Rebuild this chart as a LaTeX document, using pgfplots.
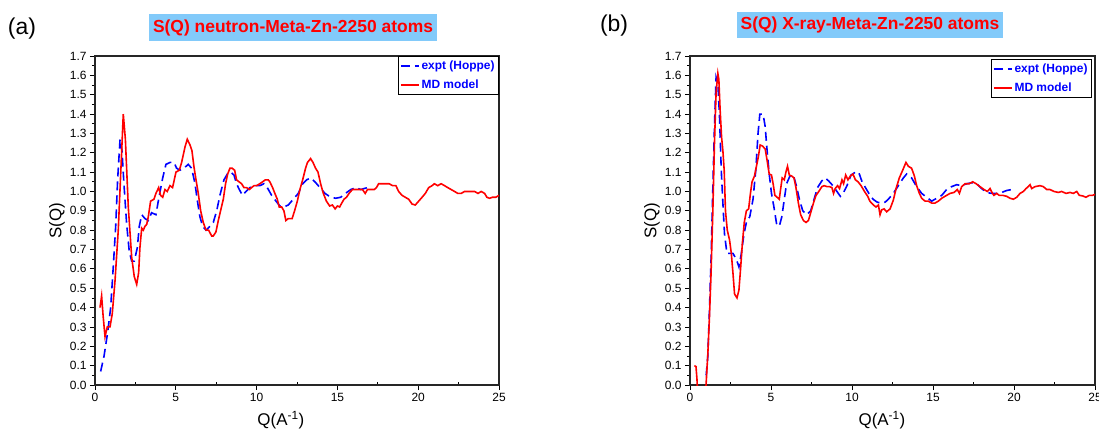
\documentclass[border=0pt]{standalone}
\usepackage{pgfplots}
\pgfplotsset{compat=1.18}
\usepackage{fontspec}
\setmainfont{Liberation Sans}
\definecolor{titlebg}{RGB}{130,202,250}

\pgfplotsset{
  sqstyle/.style={
    scale only axis, height=329bp,
    xmin=0, xmax=25, ymin=0, ymax=1.7,
    xtick={0,5,10,15,20,25}, minor x tick num=1,
    ytick={0,0.1,0.2,0.3,0.4,0.5,0.6,0.7,0.8,0.9,1.0,1.1,1.2,1.3,1.4,1.5,1.6,1.7},
    minor y tick num=1,
    tick align=outside, xtick pos=bottom, ytick pos=left,
    major tick length=5bp, minor tick length=3bp,
    tick style={black, line width=0.8bp},
    minor x tick style={yshift=3bp},
    axis line style={black!85, line width=1.1bp},
    ticklabel style={font=\fontsize{12}{14}\selectfont},
    /pgf/number format/assume math mode=true,
    y tick label style={/pgf/number format/fixed, /pgf/number format/fixed zerofill, /pgf/number format/precision=1},
    label style={font=\fontsize{17}{20}\selectfont},
    xlabel={Q(A\textsuperscript{-1})}, ylabel={S(Q)},
    ylabel style={at={(axis description cs:-0.094,0.5)}, anchor=center},
    legend cell align=left,
    legend style={font=\bfseries\fontsize{12}{14}\selectfont, text=blue, draw=black, line width=0.8bp,
      at={(1,1)}, anchor=north east, inner xsep=2bp, inner ysep=2.5bp, row sep=5bp},
    legend image code/.code={\draw[#1] (0bp,0bp) -- (18bp,0bp);},
  },
  exptstyle/.style={blue, line width=1.6bp, dash pattern=on 9bp off 5bp},
  mdstyle/.style={red, line width=1.6bp},
}

\begin{document}
\begin{tikzpicture}
\useasboundingbox (0,0) rectangle (1099bp,432bp);

% ---------------- panel (a) ----------------
\begin{axis}[sqstyle, width=404bp, at={(95bp,47bp)}, anchor=south west,
  xlabel style={at={(axis description cs:0.46,-0.106)}, anchor=center}]
\addplot[exptstyle] table {
0.35 0.07
0.56 0.15
0.78 0.27
0.97 0.40
1.13 0.61
1.28 0.82
1.40 1.06
1.55 1.27
1.67 1.21
1.79 1.04
1.96 0.83
2.12 0.69
2.27 0.64
2.43 0.64
2.62 0.71
2.74 0.82
2.89 0.88
3.09 0.86
3.30 0.85
3.50 0.89
3.77 0.88
3.98 0.98
4.19 1.07
4.39 1.14
4.64 1.15
4.89 1.15
5.05 1.12
5.26 1.11
5.50 1.12
5.77 1.14
5.98 1.12
6.19 1.04
6.33 0.955
6.49 0.87
6.66 0.82
6.87 0.80
7.11 0.82
7.32 0.84
7.53 0.90
7.73 0.98
7.98 1.06
8.19 1.09
8.39 1.10
8.60 1.085
8.76 1.04
8.93 1.01
9.13 0.98
9.34 1.00
9.59 1.02
9.90 1.03
10.20 1.03
10.45 1.04
10.66 1.02
10.93 0.98
11.20 0.95
11.44 0.925
11.69 0.92
11.96 0.93
12.27 0.96
12.58 0.99
12.85 1.04
13.09 1.06
13.34 1.07
13.61 1.05
13.92 1.02
14.23 0.99
14.59 0.97
14.90 0.965
15.20 0.97
15.50 0.99
15.83 1.01
16.14 1.02
16.45 1.01
16.86 1.02
};
\addlegendentry{expt (Hoppe)}
\addplot[mdstyle] table {
0.31 0.40
0.41 0.46
0.50 0.36
0.62 0.25
0.76 0.30
0.93 0.30
1.07 0.37
1.24 0.54
1.44 0.80
1.59 1.09
1.75 1.40
1.88 1.27
2.06 0.92
2.27 0.66
2.43 0.56
2.58 0.52
2.70 0.58
2.78 0.71
2.89 0.81
2.99 0.80
3.09 0.82
3.20 0.83
3.30 0.87
3.44 0.95
3.65 0.96
3.77 0.99
3.94 1.02
4.06 0.98
4.19 0.97
4.33 1.01
4.47 1.00
4.64 1.03
4.80 1.02
5.01 1.10
5.22 1.11
5.36 1.15
5.57 1.23
5.71 1.27
5.88 1.24
6.00 1.21
6.12 1.13
6.25 1.06
6.39 0.99
6.54 0.90
6.70 0.84
6.87 0.80
7.03 0.80
7.22 0.77
7.32 0.77
7.48 0.79
7.63 0.85
7.77 0.90
7.94 0.96
8.08 1.04
8.21 1.09
8.35 1.12
8.49 1.12
8.64 1.11
8.76 1.06
8.91 1.05
9.07 1.04
9.22 1.02
9.38 1.02
9.55 1.01
9.69 1.02
9.84 1.03
10.00 1.03
10.20 1.04
10.37 1.05
10.54 1.06
10.72 1.06
10.82 1.05
10.99 1.02
11.13 0.99
11.28 0.96
11.40 0.92
11.55 0.92
11.69 0.90
11.81 0.85
11.96 0.86
12.06 0.86
12.20 0.86
12.35 0.90
12.52 0.95
12.68 1.01
12.85 1.06
13.03 1.12
13.15 1.15
13.34 1.17
13.49 1.15
13.65 1.12
13.80 1.10
13.96 1.04
14.13 0.99
14.32 0.95
14.52 0.925
14.69 0.93
14.86 0.91
15.00 0.925
15.14 0.92
15.27 0.94
15.41 0.96
15.56 0.97
15.72 0.99
15.93 1.01
16.14 1.01
16.35 1.01
16.55 1.01
16.72 0.99
16.86 1.01
17.07 1.01
17.28 1.01
17.42 1.02
17.55 1.04
17.80 1.04
18.00 1.04
18.20 1.04
18.42 1.03
18.62 1.03
18.79 1.00
19.00 0.98
19.20 0.97
19.41 0.96
19.62 0.935
19.82 0.93
20.03 0.95
20.24 0.97
20.44 0.99
20.65 1.02
20.86 1.03
21.00 1.04
21.21 1.03
21.42 1.04
21.63 1.03
21.83 1.02
22.04 1.01
22.25 1.00
22.45 0.99
22.66 0.99
22.87 1.00
23.07 1.00
23.28 1.00
23.49 1.00
23.70 0.99
23.90 1.00
24.11 0.99
24.25 0.97
24.42 0.965
24.59 0.97
24.80 0.97
25.00 0.98
};
\addlegendentry{MD model}
\end{axis}

% ---------------- panel (b) ----------------
\begin{axis}[sqstyle, width=405bp, at={(690bp,47bp)}, anchor=south west,
  xlabel style={at={(axis description cs:0.474,-0.106)}, anchor=center},
  legend style={at={(1,1)}, anchor=north east, xshift=-3bp, yshift=-3bp}]
\addplot[exptstyle] table {
1.00 0.05
1.10 0.15
1.20 0.39
1.30 0.65
1.41 1.02
1.51 1.34
1.61 1.59
1.72 1.56
1.82 1.39
1.93 1.11
2.03 0.94
2.13 0.78
2.28 0.68
2.44 0.68
2.65 0.68
2.86 0.65
3.02 0.61
3.17 0.68
3.33 0.78
3.48 0.84
3.69 0.87
3.89 0.96
4.06 1.11
4.20 1.30
4.31 1.40
4.51 1.40
4.64 1.335
4.76 1.21
4.89 1.09
5.03 0.99
5.18 0.92
5.34 0.835
5.51 0.82
5.67 0.87
5.82 0.96
5.96 1.04
6.17 1.08
6.38 1.085
6.58 1.025
6.75 0.96
6.96 0.90
7.20 0.88
7.45 0.90
7.66 0.96
7.87 1.02
8.14 1.055
8.34 1.07
8.55 1.055
8.82 1.03
9.07 1.00
9.28 0.975
9.48 0.995
9.69 1.03
9.94 1.085
10.21 1.10
10.41 1.10
10.62 1.05
10.83 1.02
11.04 0.99
11.30 0.96
11.55 0.945
11.80 0.94
12.05 0.945
12.24 0.96
12.55 0.99
12.86 1.03
13.17 1.07
13.37 1.09
13.68 1.07
13.99 1.025
14.30 0.99
14.61 0.97
14.92 0.95
15.23 0.965
15.54 0.98
15.84 1.01
16.15 1.025
16.46 1.035
16.77 1.03
17.08 1.04
17.39 1.045
17.70 1.04
18.00 1.015
18.31 0.995
18.62 0.99
18.93 0.99
19.24 0.995
19.55 1.005
19.86 1.01
};
\addlegendentry{expt (Hoppe)}
\addplot[mdstyle] table {
0.27 0.10
0.37 0.095
0.43 0.03
0.48 -0.06
0.95 -0.06
0.99 0.00
1.10 0.16
1.20 0.35
1.30 0.58
1.41 0.90
1.51 1.25
1.61 1.51
1.72 1.61
1.78 1.58
1.86 1.42
1.95 1.28
2.03 1.21
2.11 1.11
2.19 0.90
2.30 0.80
2.44 0.75
2.55 0.68
2.65 0.58
2.75 0.47
2.90 0.45
3.02 0.49
3.13 0.61
3.23 0.73
3.35 0.84
3.48 0.90
3.62 0.91
3.73 0.99
3.83 1.05
3.98 1.08
4.10 1.13
4.22 1.18
4.33 1.24
4.47 1.235
4.64 1.22
4.76 1.16
4.89 1.09
5.03 1.085
5.13 1.04
5.24 0.98
5.38 0.97
5.51 0.96
5.59 1.01
5.69 1.07
5.82 1.06
5.92 1.10
6.02 1.13
6.13 1.085
6.27 1.08
6.42 1.07
6.54 1.02
6.69 0.94
6.83 0.88
7.00 0.85
7.16 0.84
7.31 0.85
7.45 0.89
7.62 0.94
7.78 0.98
7.95 1.00
8.14 1.025
8.28 1.03
8.45 1.025
8.61 1.025
8.76 1.02
8.86 0.99
8.96 1.015
9.11 1.03
9.23 1.015
9.38 1.06
9.48 1.04
9.61 1.085
9.75 1.06
9.90 1.08
10.06 1.09
10.21 1.06
10.37 1.05
10.56 1.03
10.77 1.00
10.97 0.975
11.10 0.95
11.32 0.93
11.48 0.92
11.63 0.93
11.73 0.88
11.83 0.905
11.98 0.91
12.14 0.895
12.35 0.91
12.55 0.955
12.72 1.015
12.92 1.07
13.13 1.11
13.33 1.15
13.48 1.13
13.68 1.12
13.85 1.08
13.99 1.03
14.16 0.99
14.30 0.965
14.51 0.95
14.71 0.95
14.92 0.94
15.12 0.94
15.33 0.95
15.54 0.965
15.74 0.975
16.05 0.99
16.30 0.995
16.50 1.01
16.63 0.99
16.77 1.025
16.98 1.04
17.24 1.04
17.45 1.05
17.66 1.04
17.90 1.025
18.15 1.01
18.35 1.00
18.52 1.015
18.64 0.995
18.76 0.98
18.93 0.99
19.09 0.98
19.30 0.98
19.55 0.975
19.75 0.965
19.96 0.96
20.17 0.97
20.37 0.99
20.58 1.00
20.74 1.015
20.88 1.025
20.99 1.035
21.09 1.015
21.30 1.025
21.60 1.03
21.81 1.025
22.02 1.01
22.22 1.01
22.47 1.00
22.74 0.995
22.94 1.00
23.21 0.99
23.46 0.995
23.66 0.99
23.87 1.00
24.03 0.98
24.24 0.977
24.44 0.97
24.65 0.98
24.85 0.98
25.00 0.985
};
\addlegendentry{MD model}
\end{axis}

% titles and panel labels
\node[fill=titlebg, text=red, font=\bfseries\fontsize{17.5}{20}\selectfont, inner xsep=4bp, minimum height=27bp, anchor=center] at (293bp,404.5bp) {S(Q) neutron-Meta-Zn-2250 atoms};
\node[fill=titlebg, text=red, font=\bfseries\fontsize{17.5}{20}\selectfont, inner xsep=4bp, minimum height=26bp, anchor=center] at (870bp,407bp) {S(Q) X-ray-Meta-Zn-2250 atoms};
\node[font=\fontsize{23}{26}\selectfont, anchor=center] at (22bp,403bp) {(a)};
\node[font=\fontsize{23}{26}\selectfont, anchor=center] at (614bp,406bp) {(b)};
\end{tikzpicture}
\end{document}
